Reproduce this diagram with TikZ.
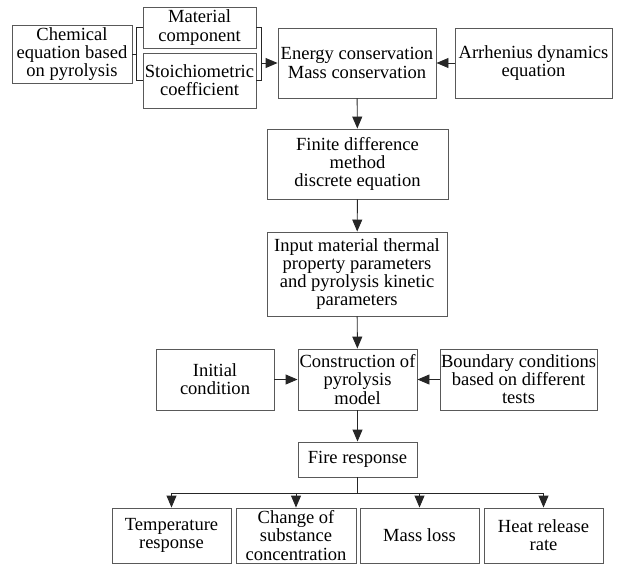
\documentclass[tikz,border=0pt]{standalone}
\usepackage{fontspec}
\setmainfont{Liberation Serif}
\usetikzlibrary{arrows.meta}

\begin{document}
\begin{tikzpicture}[x=0.75pt, y=-0.75pt, >={Triangle[length=9pt,width=7.5pt]},
	line width=0.7pt, draw=black!85,
	box/.style={draw=black!65, rectangle, align=center, inner sep=0.5pt,
		font=\rmfamily\fontsize{13.9}{13.6}\selectfont},
	]
	\useasboundingbox (0,0) rectangle (620,564);
	% top row
	\node[box, minimum width=90pt, minimum height=43.5pt] (chem) at (72, 54) {Chemical\\equation based\\on pyrolysis};
	\node[box, minimum width=84.75pt, minimum height=30.75pt] (mat) at (199.5, 27.5) {Material\\component};
	\node[box, minimum width=84.75pt, minimum height=41.25pt] (sto) at (199.5, 80.5) {Stoichiometric\\coefficient};
	\node[box, minimum width=118.5pt, minimum height=52.5pt] (energy) at (357, 63) {Energy conservation\\Mass conservation};
	\node[box, minimum width=117.75pt, minimum height=52.5pt] (arr) at (533.5, 63) {Arrhenius dynamics\\equation};
	% middle column
	\node[box, minimum width=135.75pt, minimum height=52.5pt] (fin) at (357.5, 164) {Finite difference\\method\\discrete equation};
	\node[box, minimum width=135pt, minimum height=63pt] (inp) at (357, 274) {Input material thermal\\property parameters\\and pyrolysis kinetic\\parameters};
	\node[box, minimum width=89.25pt, minimum height=45.75pt] (cons) at (357.5, 379.5) {Construction of\\pyrolysis\\model};
	\node[box, minimum width=88.5pt, minimum height=45.75pt] (init) at (215, 379.5) {Initial\\condition};
	\node[box, minimum width=117.75pt, minimum height=45.75pt] (bnd) at (518.5, 379.5) {Boundary conditions\\based on different\\tests};
	\node[box, minimum width=89.25pt, minimum height=26.25pt] (fire) at (357.5, 459.5) {Fire response};
	% outputs
	\node[box, minimum width=89.25pt, minimum height=41.25pt] (temp) at (171.5, 535.5) {Temperature\\response};
	\node[box, minimum width=90pt, minimum height=41.25pt] (conc) at (296, 535.5) {Change of\\substance\\concentration};
	\node[box, minimum width=89.25pt, minimum height=41.25pt] (mass) at (419.5, 535.5) {Mass loss};
	\node[box, minimum width=89.25pt, minimum height=41.25pt] (heat) at (543.5, 535.5) {Heat release\\rate};

	% brackets
	\coordinate (bl) at (137, 54);
	\coordinate (br) at (261, 63);
	\coordinate (split) at (357.5, 493);
	\draw (mat.west) -- ++(-6,0) |- (sto.west);
	\draw (mat.east) -- ++(5,0) |- (sto.east);
	\draw (chem) -- (bl);
	\draw[->] (br) -- (energy);
	\draw[->] (arr) -- (energy);

	\draw[->] (energy) -- (fin);
	\draw[->] (fin) -- (inp);
	\draw[->] (inp) -- (cons);
	\draw[->] (init) -- (cons);
	\draw[->] (bnd) -- (cons);
	\draw[->] (cons) -- (fire);

	\draw (fire) -- (split);
	\draw[->] (split) -| (temp);
	\draw[->] (split) -| (conc);
	\draw[->] (split) -| (mass);
	\draw[->] (split) -| (heat);
\end{tikzpicture}
\end{document}
